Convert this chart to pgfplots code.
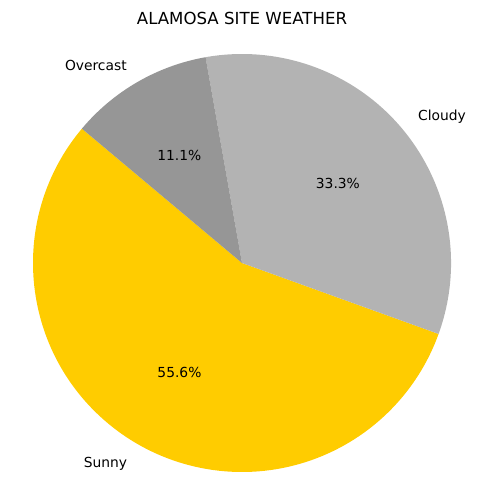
\documentclass[border=0pt]{standalone}
\usepackage{pgfplots}
\pgfplotsset{compat=1.18}
\usepackage{fontspec}
\setmainfont{DejaVu Sans}
\definecolor{sunny}{HTML}{FFCC00}
\definecolor{cloudy}{HTML}{B3B3B3}
\definecolor{overcast}{HTML}{969696}
\begin{document}
\begin{tikzpicture}
\begin{axis}[hide axis, scale only axis, width=4.84in, height=5.04in,
  xmin=0, xmax=484, ymin=0, ymax=504, clip=false]
\pgfplotsextra{
  \path (axis cs:0,0) rectangle (axis cs:484,504);
  \gdef\startang{140}
  \foreach \lab/\val/\col/\anch in {Sunny/55.6/sunny/east, Cloudy/33.3/cloudy/west, Overcast/11.1/overcast/east}{
    \pgfmathsetmacro{\endang}{\startang+\val*3.6}
    \pgfmathsetmacro{\midang}{(\startang+\endang)/2}
    \fill[\col] (axis cs:242,241) -- (axis cs:{242+209*cos(\startang)},{241+209*sin(\startang)})
      arc[start angle=\startang, end angle=\endang, radius=2.09in] -- cycle;
    \node[anchor=\anch, font=\fontsize{10}{12}\selectfont, inner sep=0pt]
      at (axis cs:{242+229.9*cos(\midang)},{239.5+229.9*sin(\midang)}) {\lab};
    \node[font=\fontsize{10}{12}\selectfont, inner sep=0pt]
      at (axis cs:{242+125.4*cos(\midang)},{240+125.4*sin(\midang)}) {\val\%};
    \xdef\startang{\endang}
  }
  \node[font=\fontsize{12}{14}\selectfont] at (axis cs:242,486) {ALAMOSA SITE WEATHER};
}
\end{axis}
\end{tikzpicture}
\end{document}
